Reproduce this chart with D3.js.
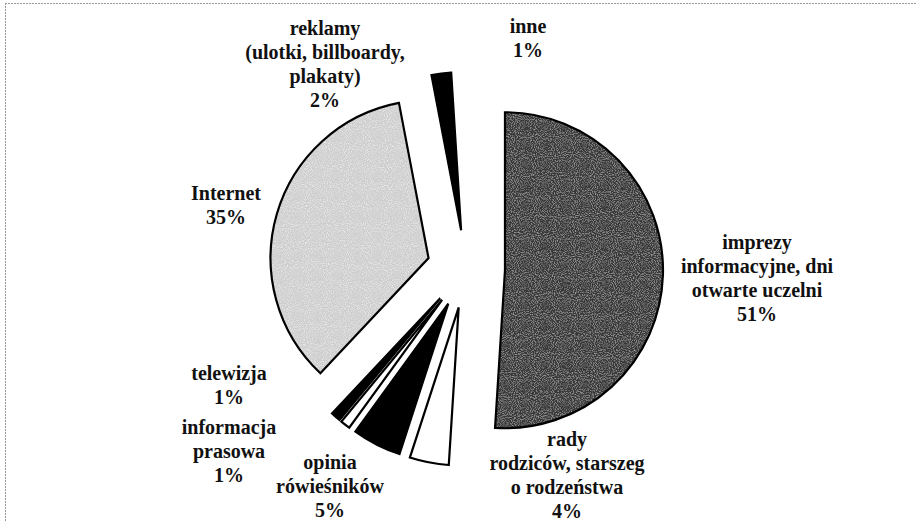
<!DOCTYPE html>
<html>
<head>
<meta charset="utf-8">
<script src="https://cdn.jsdelivr.net/npm/d3@7"></script>
<style>
  html, body { margin: 0; padding: 0; background: #fff; }
  svg { display: block; }
</style>
</head>
<body>
<div id="vis"></div>
<script>
// data, clockwise from 12 o'clock
var categories = ["imprezy informacyjne, dni otwarte uczelni", "rady rodziców, starszego rodzeństwa",
  "opinia rówieśników", "informacja prasowa", "telewizja", "Internet",
  "reklamy (ulotki, billboardy, plakaty)", "inne"];
var values = [51, 4, 5, 1, 1, 35, 2, 1];
var labelLines = [
  ["imprezy", "informacyjne, dni", "otwarte uczelni", "51%"],
  ["rady", "rodziców, starszeg", "o rodzeństwa", "4%"],
  ["opinia", "rówieśników", "5%"],
  ["informacja", "prasowa", "1%"],
  ["telewizja", "1%"],
  ["Internet", "35%"],
  ["reklamy", "(ulotki, billboardy,", "plakaty)", "2%"],
  ["inne", "1%"]
];

// look
var fills = ["#4a4a4a", "#ffffff", "#000000", "#ffffff", "#000000", "#f2f2f2", "#000000", "#ffffff"];
var grain = ["grainDark", null, null, null, null, "grainLight", null, null];
var strokes = ["#000", "#000", "#000", "#000", "#000", "#000", "#000", "none"];
// label anchors: [center x, first baseline]
var labelPos = [[757, 249], [567, 446], [330, 469], [229, 434], [229, 380], [226, 200], [325, 35], [528, 33]];

var width = 916, height = 521;
var cx = 466, cy = 269, radius = 158, explode = 39, lineH = 24;

var svg = d3.select("#vis").append("svg")
    .attr("width", width)
    .attr("height", height);

// scan grain for the shaded slices
var defs = svg.append("defs");
[["grainDark", 0.4], ["grainLight", 0.3]].forEach(function (f) {
  var flt = defs.append("filter").attr("id", f[0])
      .attr("x", "0%").attr("y", "0%").attr("width", "100%").attr("height", "100%");
  flt.append("feTurbulence").attr("type", "fractalNoise")
      .attr("baseFrequency", 0.95).attr("numOctaves", 1).attr("seed", 7).attr("result", "noise");
  flt.append("feColorMatrix").attr("in", "noise").attr("type", "matrix")
      .attr("values", "2.2 0 0 0 -1.0  2.2 0 0 0 -1.0  2.2 0 0 0 -1.0  0 0 0 0 " + f[1])
      .attr("result", "gray");
  flt.append("feComposite").attr("in", "gray").attr("in2", "SourceGraphic")
      .attr("operator", "in").attr("result", "clipped");
  var m = flt.append("feMerge");
  m.append("feMergeNode").attr("in", "SourceGraphic");
  m.append("feMergeNode").attr("in", "clipped");
});

svg.append("rect").attr("width", width).attr("height", height).attr("fill", "#fff");

// scanned frame edge
svg.append("line")
    .attr("x1", 5).attr("x2", width).attr("y1", 3.5).attr("y2", 3.5)
    .attr("stroke", "#9a9a9a").attr("stroke-dasharray", "2,1");
svg.append("line")
    .attr("x1", 5.5).attr("x2", 5.5).attr("y1", 3).attr("y2", height)
    .attr("stroke", "#9a9a9a").attr("stroke-dasharray", "2,1");

var pie = d3.pie().sort(null).value(d => d)(values);
var arc = d3.arc().innerRadius(0).outerRadius(radius);

var g = svg.append("g").attr("transform", "translate(" + cx + "," + cy + ")");

var shift = function (d) {
  var a = (d.startAngle + d.endAngle) / 2;
  return "translate(" + (Math.sin(a) * explode) + "," + (-Math.cos(a) * explode) + ")";
};

// fills
g.append("g").selectAll("path")
  .data(pie)
  .enter()
  .append("path")
    .attr("d", arc)
    .attr("transform", shift)
    .attr("fill", (d, i) => fills[i])
    .attr("filter", (d, i) => grain[i] ? "url(#" + grain[i] + ")" : null);

// outlines
g.append("g").selectAll("path")
  .data(pie)
  .enter()
  .append("path")
    .attr("d", arc)
    .attr("transform", shift)
    .attr("fill", "none")
    .attr("stroke", (d, i) => strokes[i])
    .attr("stroke-width", 2.2)
    .attr("stroke-linejoin", "miter");

// labels
var labels = svg.append("g");
labelLines.forEach(function (lines, i) {
  var t = labels.append("text")
      .attr("text-anchor", "middle")
      .attr("font-size", 20)
      .attr("font-weight", "bold")
      .attr("fill", "#111")
      .style("font-family", "'Liberation Serif'");
  lines.forEach(function (s, j) {
    t.append("tspan")
      .attr("x", labelPos[i][0])
      .attr("y", labelPos[i][1] + j * lineH)
      .text(s);
  });
});
</script>
</body>
</html>
